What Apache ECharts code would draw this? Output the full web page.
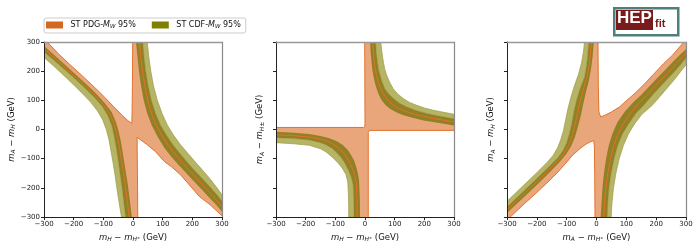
<!DOCTYPE html>
<html><head><meta charset="utf-8">
<script src="https://cdn.jsdelivr.net/npm/echarts/dist/echarts.min.js"></script>
<style>html,body{margin:0;padding:0;background:#fff}#c{width:700px;height:250px}</style>
</head><body><div id="c"></div>
<script>
// ---------- axis ticks ----------
const TICKS = [-300, -200, -100, 0, 100, 200, 300];
const xNames = ['{i|m}{s|H} − {i|m}{s|H⁺} (GeV)', '{i|m}{s|H} − {i|m}{s|H⁺} (GeV)', '{i|m}{s|A} − {i|m}{s|H⁺} (GeV)'];
const yNames = ['{i|m}{s|A} − {i|m}{s|H} (GeV)', '{i|m}{s|A} − {i|m}{s|H±} (GeV)', '{i|m}{s|A} − {i|m}{s|H} (GeV)'];
const legendNames = ['ST PDG', 'ST CDF'];

// ---------- panel 1 : x = mH - mH+, y = mA - mH ----------
const p1UlOuter = [[-300,247],[-270,220],[-240,192],[-205,158],[-172,125],[-143,94],[-120,64],[-102,33],[-90,0],[-81,-35],[-74,-75],[-67,-115],[-60,-160],[-53,-210],[-46,-255],[-39,-300]];
const p1UlMid   = [[-300,266],[-265,236],[-230,205],[-195,173],[-160,140],[-130,110],[-104,80],[-85,48],[-72,15],[-64,-20],[-57,-60],[-50,-105],[-44,-150],[-37,-200],[-31,-250],[-25,-300]];
const p1UlLine  = [[-300,276],[-262,243],[-226,210],[-190,177],[-155,144],[-125,114],[-100,85],[-78,54],[-64,21],[-55,-14],[-47,-52],[-40,-97],[-33,-142],[-26,-192],[-19,-245],[-13,-300]];
const p1UlInner = [[-300,286],[-260,250],[-222,215],[-185,181],[-150,148],[-120,118],[-95,90],[-72,60],[-58,27],[-48,-8],[-40,-45],[-33,-90],[-26,-135],[-18,-185],[-11,-240],[-4,-300]];
const p1LrInner = [[10,300],[15,250],[20,200],[27,150],[36,100],[48,55],[63,15],[83,-25],[106,-63],[130,-94],[150,-117],[176,-146],[205,-177],[230,-204],[255,-231],[280,-258],[300,-282]];
const p1LrLine  = [[21,300],[26,250],[32,200],[40,150],[50,100],[62,55],[78,15],[98,-22],[121,-58],[145,-89],[168,-116],[195,-146],[222,-175],[248,-204],[272,-231],[300,-265]];
const p1LrMid   = [[33,300],[37,250],[43,200],[51,150],[62,100],[76,55],[93,15],[113,-20],[136,-54],[160,-84],[186,-116],[214,-147],[240,-175],[265,-203],[288,-230],[300,-246]];
const p1LrOuter = [[48,300],[53,250],[60,200],[69,150],[82,100],[98,55],[116,15],[137,-20],[160,-52],[186,-83],[214,-116],[240,-146],[262,-172],[283,-200],[300,-224]];
const p1TopEdge = [[-289,300],[-250,258],[-210,220],[-170,183],[-130,145],[-95,110],[-65,78],[-38,50],[-18,31],[-4,21],[-3,60],[-2,150],[-1,300]];
const p1BotEdge = [[300,-296],[260,-258],[224,-230],[190,-190],[160,-155],[130,-128],[106,-110],[75,-75],[45,-50],[25,-35],[14,-27],[14,-60],[15,-150],[16,-300]];
const p1Corner  = [[-300,300]];

// ---------- panel 2 : x = mH - mH+, y = mA - mH± ----------
const p2UrInner = [[17,300],[19,265],[22,231],[25,205],[28,186],[33,162],[39,140],[47,118],[56,100],[69,84],[84,71],[105,59],[129,49],[160,40],[197,31],[250,22],[300,14]];
const p2UrLine  = [[26,300],[29,265],[31,231],[35,205],[39,186],[45,162],[53,140],[62,122],[75,103],[92,86],[112,73],[138,62],[168,52],[230,38],[300,26]];
const p2UrMid   = [[36,300],[38,265],[42,231],[46,205],[51,186],[58,162],[67,140],[80,122],[96,106],[115,91],[140,78],[170,66],[208,55],[250,46],[300,37]];
const p2UrOuter = [[53,300],[57,265],[62,231],[67,205],[73,186],[83,162],[95,140],[110,122],[129,106],[150,93],[174,83],[200,74],[230,66],[265,59],[300,52]];
const p2LlInner = [[-300,-8],[-240,-11],[-188,-15],[-150,-22],[-120,-30],[-95,-40],[-75,-53],[-58,-70],[-47,-87],[-36,-108],[-30,-127],[-24,-150],[-20,-175],[-18,-220],[-17,-260],[-17,-300]];
const p2LlLine  = [[-300,-18],[-240,-21],[-188,-26],[-150,-33],[-125,-41],[-105,-52],[-88,-64],[-70,-82],[-59,-98],[-48,-120],[-40,-140],[-34,-160],[-29,-185],[-27,-240],[-27,-300]];
const p2LlMid   = [[-300,-28],[-240,-31],[-188,-36],[-150,-45],[-131,-53],[-112,-64],[-98,-77],[-80,-97],[-68,-115],[-56,-140],[-46,-165],[-40,-190],[-38,-240],[-37,-300]];
const p2LlOuter = [[-300,-45],[-240,-49],[-188,-54],[-150,-66],[-131,-77],[-110,-95],[-90,-115],[-75,-135],[-64,-155],[-58,-180],[-56,-220],[-55,-260],[-55,-300]];
const p2UlEdge  = [[-1,300],[0,20],[-1,10],[-5,7],[-300,7]];
const p2LrEdge  = [[11,-300],[11,-10],[14,-4],[20,-3],[300,-3]];

// ---------- panel 3 : x = mA - mH+, y = mA - mH ----------
const p3LbOuter = [[-300,-246],[-250,-197],[-200,-148],[-165,-112],[-145,-88],[-130,-62],[-120,-35],[-111,-5],[-104,30],[-96,70],[-86,110],[-74,150],[-60,190],[-50,230],[-44,265],[-40,300]];
const p3LbMid   = [[-300,-266],[-250,-217],[-200,-168],[-160,-128],[-130,-97],[-112,-72],[-100,-45],[-91,-15],[-83,20],[-76,60],[-67,100],[-55,140],[-40,180],[-33,220],[-29,260],[-26,300]];
const p3LbLine  = [[-300,-276],[-250,-228],[-200,-179],[-160,-139],[-128,-105],[-106,-77],[-92,-50],[-81,-20],[-72,15],[-64,55],[-55,95],[-45,135],[-32,178],[-25,215],[-21,255],[-17,300]];
const p3LbInner = [[-300,-286],[-250,-238],[-200,-190],[-160,-150],[-125,-113],[-100,-82],[-84,-55],[-72,-25],[-62,10],[-52,50],[-44,90],[-35,130],[-25,170],[-18,210],[-13,250],[-9,300]];
const p3RbInner = [[14,-300],[17,-250],[20,-200],[25,-150],[32,-100],[41,-55],[53,-15],[70,25],[95,62],[125,95],[147,116],[175,146],[205,178],[230,204],[254,230],[280,256],[300,275]];
const p3RbLine  = [[25,-300],[27,-250],[31,-200],[38,-150],[47,-100],[58,-55],[72,-15],[92,22],[117,60],[143,92],[167,116],[195,147],[222,176],[248,204],[271,230],[300,262]];
const p3RbMid   = [[36,-300],[38,-250],[42,-200],[49,-150],[59,-100],[71,-55],[87,-15],[108,20],[132,55],[160,85],[186,116],[215,148],[240,175],[265,202],[288,230],[300,246]];
const p3RbOuter = [[49,-300],[52,-250],[57,-200],[65,-150],[76,-100],[90,-55],[107,-15],[128,20],[152,52],[186,82],[215,116],[240,146],[262,172],[283,200],[300,222]];
const p3TopEdge = [[5,300],[6,150],[8,60],[14,43],[30,50],[50,60],[78,78],[106,104],[130,125],[160,155],[190,188],[224,225],[255,255],[293,300]];
const p3BotEdge = [[-5,-300],[-6,-150],[-7,-60],[-9,-38],[-20,-42],[-35,-50],[-55,-65],[-80,-88],[-105,-118],[-135,-152],[-170,-187],[-210,-225],[-250,-262],[-289,-300]];
const p3CornerTR = [[300,300]];
const p3CornerBL = [[-300,-300]];

// ---------- styles ----------
const FONT = 'DejaVu Sans';
const C_ORANGE_FILL = '#e9a67a';
const C_ORANGE_LINE = '#e2722c';
const C_OLIVE_LIGHT = '#b6b465';
const C_OLIVE_DARK = '#928024';
const C_LEG_ORANGE = '#d2691e';
const C_LEG_OLIVE = '#808000';
const rev = a => a.slice().reverse();

// regions built from the arrays
const panels = [
  { orange: [...p1TopEdge, ...p1LrLine, ...p1BotEdge, ...rev(p1UlLine), ...p1Corner],
    bands: [[p1UlInner, p1UlMid, p1UlOuter], [p1LrInner, p1LrMid, p1LrOuter]],
    lines: [p1UlLine, p1LrLine, p1TopEdge, p1BotEdge] },
  { orange: [...p2UlEdge, ...p2LlLine, ...p2LrEdge, ...rev(p2UrLine)],
    bands: [[p2UrInner, p2UrMid, p2UrOuter], [p2LlInner, p2LlMid, p2LlOuter]],
    lines: [p2UrLine, p2LlLine, p2UlEdge, p2LrEdge] },
  { orange: [...p3TopEdge, ...p3CornerTR, ...rev(p3RbLine), ...p3BotEdge, ...p3CornerBL, ...p3LbLine],
    bands: [[p3LbInner, p3LbMid, p3LbOuter], [p3RbInner, p3RbMid, p3RbOuter]],
    lines: [p3LbLine, p3RbLine, p3TopEdge, p3BotEdge] }
];

const grids = [
  { left: 44, top: 42, width: 178, height: 175 },
  { left: 276, top: 42, width: 178, height: 175 },
  { left: 507, top: 42, width: 179, height: 175 }
];
const yNameGap = [24, 11, 11];

const nameStyle = {
  fontFamily: FONT, fontSize: 8.5, color: '#111',
  rich: {
    i: { fontFamily: FONT, fontSize: 8.5, fontStyle: 'italic', color: '#111' },
    s: { fontFamily: FONT, fontSize: 6, fontStyle: 'italic', color: '#111', verticalAlign: 'bottom', padding: [5, 0, 0, 0] }
  }
};
const fmt = v => String(v).replace('-', '−');

const xAxis = [], yAxis = [];
grids.forEach((g, i) => {
  const base = { gridIndex: i, type: 'value', min: TICKS[0], max: TICKS[TICKS.length - 1], interval: TICKS[1] - TICKS[0], z: 10, splitLine: { show: false } };
  xAxis.push(Object.assign({}, base, {
    position: 'bottom',
    axisLine: { show: true, onZero: false, lineStyle: { color: '#222', width: 1 } },
    axisTick: { show: true, length: 3, lineStyle: { color: '#222' } },
    axisLabel: { fontFamily: FONT, fontSize: 7, color: '#222', margin: 4, formatter: fmt },
    name: xNames[i], nameLocation: 'middle', nameGap: 14, nameTextStyle: nameStyle
  }));
  xAxis.push(Object.assign({}, base, {
    position: 'top',
    axisLine: { show: true, onZero: false, lineStyle: { color: '#999', width: 1.3 } },
    axisTick: { show: false }, axisLabel: { show: false }
  }));
  yAxis.push(Object.assign({}, base, {
    position: 'left',
    axisLine: { show: true, onZero: false, lineStyle: { color: '#222', width: 1 } },
    axisTick: { show: true, length: 3, lineStyle: { color: '#222' } },
    axisLabel: { show: i === 0, fontFamily: FONT, fontSize: 7, color: '#222', margin: 4, formatter: fmt },
    name: yNames[i], nameLocation: 'middle', nameGap: yNameGap[i], nameRotate: 90, nameTextStyle: nameStyle
  }));
  yAxis.push(Object.assign({}, base, {
    position: 'right',
    axisLine: { show: true, onZero: false, lineStyle: { color: '#888', width: 1.2 } },
    axisTick: { show: false }, axisLabel: { show: false }
  }));
});

function polySeries(gi, pts, style, z, name, legendColor) {
  const s = {
    type: 'custom', xAxisIndex: gi * 2, yAxisIndex: gi * 2, clip: true, silent: true, z: z,
    data: pts, encode: { x: 0, y: 1 },
    renderItem: (params, api) => {
      if (params.dataIndex !== 0) return;
      return { type: style.closed ? 'polygon' : 'polyline', shape: { points: pts.map(p => api.coord(p)) },
        style: style.closed ? { fill: style.fill, stroke: style.stroke || null, lineWidth: style.lw || 0 }
                            : { fill: null, stroke: style.stroke, lineWidth: style.lw } };
    }
  };
  if (name) { s.name = name; s.itemStyle = { color: legendColor }; }
  return s;
}

const series = [];
panels.forEach((p, gi) => {
  series.push(polySeries(gi, p.orange, { closed: true, fill: C_ORANGE_FILL }, 2, legendNames[0], C_LEG_ORANGE));
  p.bands.forEach(b => {
    const [inner, mid, outer] = b;
    series.push(polySeries(gi, [...mid, ...rev(outer)], { closed: true, fill: C_OLIVE_LIGHT, stroke: '#9d9b45', lw: 0.7 }, 3, legendNames[1], C_LEG_OLIVE));
    series.push(polySeries(gi, [...inner, ...rev(mid)], { closed: true, fill: C_OLIVE_DARK }, 4));
  });
  p.lines.forEach(l => series.push(polySeries(gi, l, { closed: false, stroke: C_ORANGE_LINE, lw: 1 }, 5)));
});

const chart = echarts.init(document.getElementById('c'), null, { renderer: 'canvas' });
chart.setOption({
  animation: false,
  backgroundColor: '#fff',
  grid: grids,
  xAxis, yAxis, series,
  legend: {
    left: 44, top: 18, selectedMode: false,
    data: [{ name: legendNames[0], itemStyle: { color: C_LEG_ORANGE } }, { name: legendNames[1], itemStyle: { color: C_LEG_OLIVE } }],
    icon: 'rect', itemWidth: 17, itemHeight: 7, itemGap: 16,
    padding: [3, 5, 3, 2], borderColor: '#ccc', borderWidth: 1, borderRadius: 2,
    formatter: n => n === legendNames[0] ? ' ST PDG-{i|M}{s|W} 95%' : ' ST CDF-{i|M}{s|W} 95%',
    textStyle: {
      fontFamily: FONT, fontSize: 8, color: '#111',
      rich: {
        i: { fontFamily: FONT, fontSize: 8, fontStyle: 'italic', color: '#111' },
        s: { fontFamily: FONT, fontSize: 5.5, fontStyle: 'italic', color: '#111', verticalAlign: 'bottom', padding: [4, 0, 0, 0] }
      }
    }
  },
  graphic: [
    { type: 'rect', left: 613, top: 7, shape: { width: 64, height: 27 }, style: { fill: '#fff', stroke: '#4d7f7d', lineWidth: 2.5 } },
    { type: 'rect', left: 616, top: 10, shape: { width: 37, height: 20 }, style: { fill: '#7a1b1b' } },
    { type: 'text', left: 617, top: 10, style: { text: 'HEP', fill: '#fff', font: 'bold 17px "Liberation Sans", Arial, sans-serif' } },
    { type: 'text', left: 655, top: 18, style: { text: 'fit', fill: '#7a1b1b', font: 'bold 11px "Liberation Sans", Arial, sans-serif' } }
  ]
});
</script></body></html>
